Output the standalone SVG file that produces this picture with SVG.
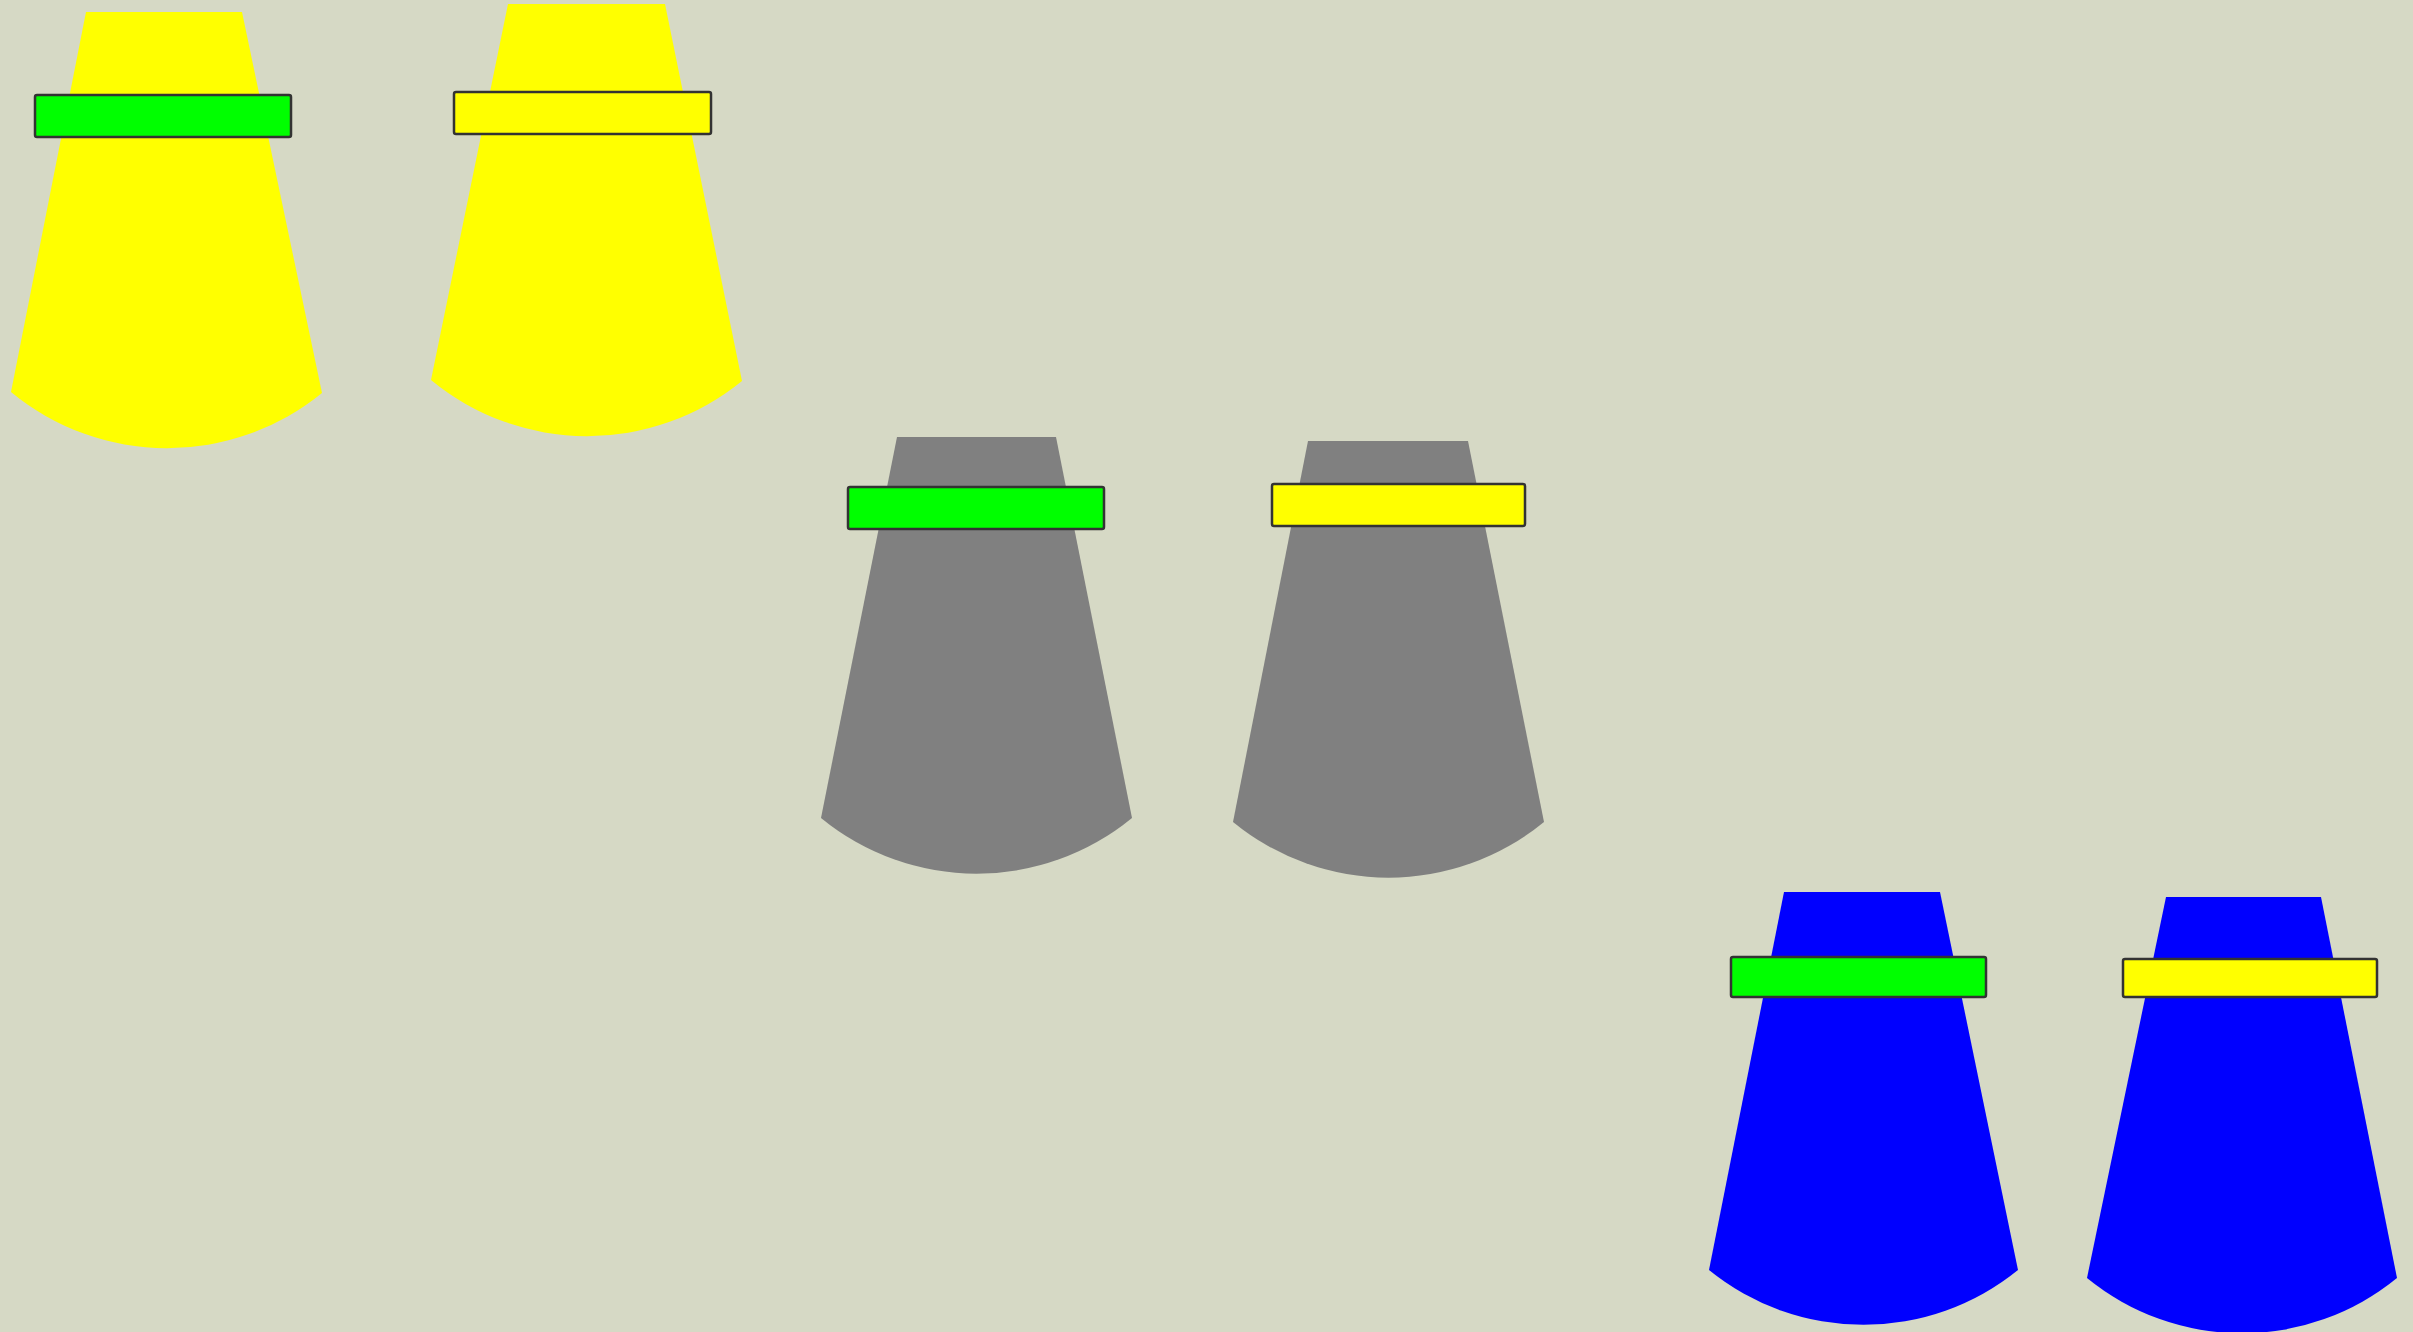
<svg xmlns="http://www.w3.org/2000/svg" width="2413" height="1332" viewBox="0 0 2413 1332">
<style>
.band{stroke:#333;stroke-width:2.5}
.g{fill:#00ff00}
.y{fill:#ffff00}
</style>
<rect x="0" y="0" width="2413" height="1332" fill="#d6d9c5"/>
<g id="lamp1">
<path d="M86,12 L242,12 L322,393 A245,245 0 0 1 11,392 Z" fill="#ffff00"/>
<rect class="band g" x="35" y="95" width="256" height="42" rx="2"/>
</g>
<g id="lamp2">
<path d="M508,4 L665,4 L742,381 A245,245 0 0 1 431,380 Z" fill="#ffff00"/>
<rect class="band y" x="454" y="92" width="257" height="42" rx="2"/>
</g>
<g id="lamp3">
<path d="M897,437 L1056,437 L1132,818 A245,245 0 0 1 821,818 Z" fill="#808080"/>
<rect class="band g" x="848" y="487" width="256" height="42" rx="2"/>
</g>
<g id="lamp4">
<path d="M1308,441 L1468,441 L1544,822 A245,245 0 0 1 1233,822 Z" fill="#808080"/>
<rect class="band y" x="1272" y="484" width="253" height="42" rx="2"/>
</g>
<g id="lamp5">
<path d="M1784,892 L1940,892 L2018,1270 A245,245 0 0 1 1709,1270 Z" fill="#0000ff"/>
<rect class="band g" x="1731" y="957" width="255" height="40" rx="2"/>
</g>
<g id="lamp6">
<path d="M2166,897 L2321,897 L2397,1278 A245,245 0 0 1 2087,1278 Z" fill="#0000ff"/>
<rect class="band y" x="2123" y="959" width="254" height="38" rx="2"/>
</g>
<g id="connectors"/>
</svg>
